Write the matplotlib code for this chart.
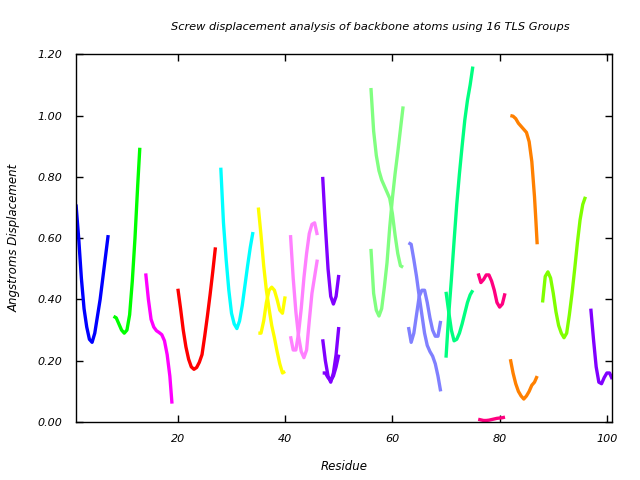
import numpy as np
import matplotlib
matplotlib.use('Agg')
import matplotlib.pyplot as plt

matplotlib.rcParams['font.family'] = 'DejaVu Sans'

# residue positions and screw displacement, one list per curve
x_blue = [1, 1.5, 2, 2.5, 3, 3.5, 4, 4.5, 5, 5.5, 6, 6.5, 7]
y_blue = [0.71, 0.60, 0.47, 0.37, 0.31, 0.27, 0.26, 0.29, 0.345, 0.40, 0.47, 0.54, 0.61]

x_green = [8, 8.5, 9, 9.5, 10, 10.5, 11, 11.5, 12, 12.5, 12.9]
y_green = [0.345, 0.34, 0.32, 0.30, 0.29, 0.30, 0.35, 0.46, 0.60, 0.77, 0.895]

x_magenta = [14, 14.5, 15, 15.5, 16, 16.5, 17, 17.5, 18, 18.5, 18.9]
y_magenta = [0.485, 0.40, 0.335, 0.31, 0.298, 0.292, 0.285, 0.265, 0.22, 0.15, 0.06]

x_red = [20, 20.5, 21, 21.5, 22, 22.5, 23, 23.5, 24, 24.5, 25, 25.5, 26, 26.5, 27]
y_red = [0.435, 0.37, 0.30, 0.245, 0.205, 0.18, 0.172, 0.178, 0.195, 0.22, 0.28, 0.345, 0.415, 0.49, 0.57]

x_cyan = [28, 28.5, 29, 29.5, 30, 30.5, 31, 31.5, 32, 32.5, 33, 33.5, 34]
y_cyan = [0.83, 0.65, 0.53, 0.43, 0.355, 0.32, 0.305, 0.33, 0.38, 0.445, 0.51, 0.57, 0.62]

x_yellow = [35, 35.5, 36, 36.5, 37, 37.5, 38, 38.5, 39, 39.5, 40]
y_yellow_a = [0.70, 0.61, 0.51, 0.43, 0.37, 0.315, 0.275, 0.23, 0.19, 0.16, 0.165]
y_yellow_b = [0.29, 0.29, 0.33, 0.39, 0.43, 0.44, 0.43, 0.40, 0.365, 0.355, 0.41]

x_pink = [41, 41.5, 42, 42.5, 43, 43.5, 44, 44.5, 45, 45.5, 46]
y_pink_a = [0.61, 0.47, 0.36, 0.28, 0.23, 0.21, 0.235, 0.33, 0.42, 0.475, 0.53]
y_pink_b = [0.28, 0.235, 0.235, 0.29, 0.37, 0.47, 0.55, 0.615, 0.645, 0.65, 0.61]

x_purple = [47, 47.5, 48, 48.5, 49, 49.5, 50]
y_purple_a = [0.80, 0.64, 0.50, 0.41, 0.385, 0.41, 0.48]
y_purple_b = [0.27, 0.20, 0.15, 0.13, 0.16, 0.22, 0.31]
y_purple_c = [0.16, 0.16, 0.145, 0.135, 0.15, 0.18, 0.22]

x_lgreen = [56, 56.5, 57, 57.5, 58, 58.5, 59, 59.5, 60, 60.5, 61, 61.5, 62]
y_lgreen_a = [1.09, 0.95, 0.87, 0.82, 0.79, 0.77, 0.75, 0.73, 0.68, 0.61, 0.55, 0.51, 0.505]
y_lgreen_b = [0.565, 0.42, 0.365, 0.346, 0.37, 0.44, 0.52, 0.635, 0.73, 0.81, 0.88, 0.955, 1.03]

x_lblue = [63, 63.5, 64, 64.5, 65, 65.5, 66, 66.5, 67, 67.5, 68, 68.5, 69]
y_lblue_a = [0.585, 0.58, 0.53, 0.475, 0.41, 0.35, 0.29, 0.25, 0.23, 0.215, 0.19, 0.15, 0.10]
y_lblue_b = [0.31, 0.26, 0.29, 0.35, 0.41, 0.43, 0.43, 0.39, 0.34, 0.30, 0.28, 0.28, 0.33]

x_spring = [70, 70.5, 71, 71.5, 72, 72.5, 73, 73.5, 74, 74.5, 75]
y_spring_a = [0.21, 0.35, 0.465, 0.59, 0.71, 0.81, 0.90, 0.985, 1.05, 1.10, 1.16]
y_spring_b = [0.425, 0.36, 0.30, 0.265, 0.27, 0.29, 0.32, 0.355, 0.39, 0.415, 0.43]

x_dpink = [76, 76.5, 77, 77.5, 78, 78.5, 79, 79.5, 80, 80.5, 81]
y_dpink_a = [0.485, 0.455, 0.465, 0.48, 0.48, 0.46, 0.43, 0.39, 0.375, 0.385, 0.42]
y_dpink_b = [0.009, 0.007, 0.005, 0.005, 0.006, 0.008, 0.01, 0.012, 0.013, 0.014, 0.016]

x_orange = [82, 82.5, 83, 83.5, 84, 84.5, 85, 85.5, 86, 86.5, 86.75, 87]
y_orange_a = [1.0, 0.998, 0.99, 0.975, 0.965, 0.955, 0.945, 0.915, 0.85, 0.735, 0.66, 0.58]
y_orange_b = [0.205, 0.16, 0.125, 0.10, 0.085, 0.075, 0.085, 0.10, 0.12, 0.13, 0.14, 0.15]

x_lime = [88, 88.5, 89, 89.5, 90, 90.5, 91, 91.5, 92, 92.5, 93, 93.5, 94, 94.5, 95, 95.5, 96]
y_lime = [0.39, 0.475, 0.49, 0.47, 0.42, 0.36, 0.315, 0.29, 0.275, 0.29, 0.35, 0.42, 0.50, 0.585, 0.66, 0.71, 0.735]

x_last = [97, 97.5, 98, 98.5, 99, 99.5, 100, 100.5, 101]
y_last = [0.37, 0.27, 0.18, 0.13, 0.125, 0.145, 0.16, 0.16, 0.14]

curves = [
    (x_blue, y_blue, "#0000ff"),
    (x_green, y_green, "#00ff00"),
    (x_magenta, y_magenta, "#ff00ff"),
    (x_red, y_red, "#ff0000"),
    (x_cyan, y_cyan, "#00ffff"),
    (x_yellow, y_yellow_a, "#ffff00"),
    (x_yellow, y_yellow_b, "#ffff00"),
    (x_pink, y_pink_a, "#ff80ff"),
    (x_pink, y_pink_b, "#ff80ff"),
    (x_purple, y_purple_a, "#8000ff"),
    (x_purple, y_purple_b, "#8000ff"),
    (x_purple, y_purple_c, "#8000ff"),
    (x_lgreen, y_lgreen_a, "#80ff80"),
    (x_lgreen, y_lgreen_b, "#80ff80"),
    (x_lblue, y_lblue_a, "#8080ff"),
    (x_lblue, y_lblue_b, "#8080ff"),
    (x_spring, y_spring_a, "#00ff80"),
    (x_spring, y_spring_b, "#00ff80"),
    (x_dpink, y_dpink_a, "#ff0080"),
    (x_dpink, y_dpink_b, "#ff0080"),
    (x_orange, y_orange_a, "#ff8000"),
    (x_orange, y_orange_b, "#ff8000"),
    (x_lime, y_lime, "#80ff00"),
    (x_last, y_last, "#8000ff"),
]

fig = plt.figure(figsize=(6.4, 4.8), dpi=100)
ax = fig.add_axes([0.11875, 0.1208, 0.8379, 0.7661])

for xs, ys, col in curves:
    ax.plot(xs, ys, color=col, linewidth=2.4, solid_capstyle="butt")

ax.set_xlim(1, 101)
ax.set_ylim(0, 1.2)
ax.set_xticks([20, 40, 60, 80, 100])
ax.set_yticks(np.arange(0, 1.21, 0.2))
ax.set_yticklabels(["%.2f" % v for v in np.arange(0, 1.21, 0.2)])
ax.tick_params(direction="in", top=True, right=True, length=5, width=1,
               labelsize=8)
ax.tick_params(axis="y", pad=9.5)
ax.tick_params(axis="x", pad=8.5)
for lab in ax.get_xticklabels() + ax.get_yticklabels():
    lab.set_fontstyle("italic")
for s in ax.spines.values():
    s.set_linewidth(1)

fig.text(370/640, 1 - 27/480, "Screw displacement analysis of backbone atoms using 16 TLS Groups",
         ha="center", va="center", fontsize=8.2, style="italic")
fig.text(344/640, 1 - 467/480, "Residue", ha="center", va="center",
         fontsize=8.5, style="italic")
fig.text(14/640, 1 - 238/480, "Angstroms Displacement", ha="center", va="center",
         fontsize=8.5, style="italic", rotation=90)

fig.savefig("out.png", dpi=100)
